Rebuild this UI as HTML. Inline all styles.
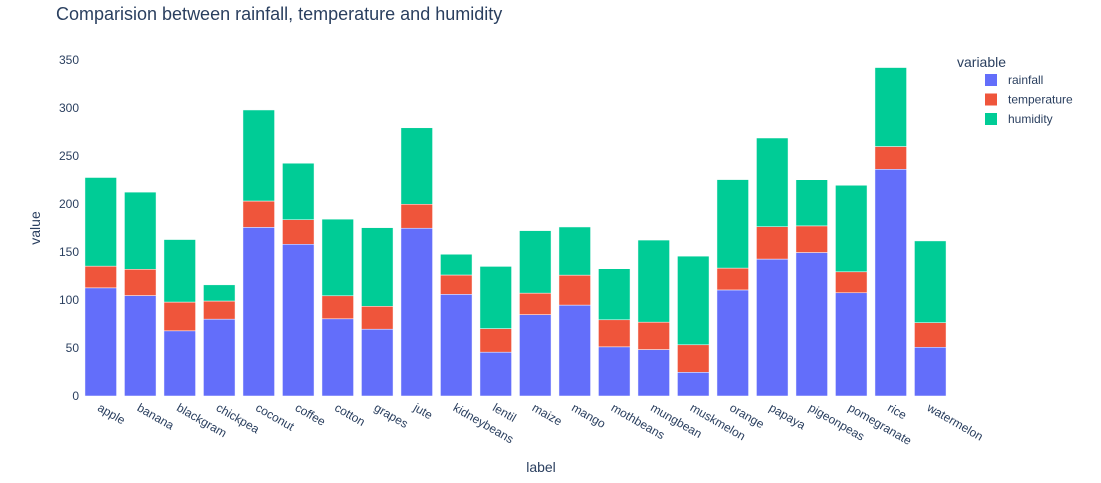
<!DOCTYPE html>
<html><head><meta charset="utf-8">
<style>
html,body{margin:0;padding:0;background:#fff;}
svg{display:block;font-family:"Liberation Sans",Arial,sans-serif;}
</style></head>
<body>
<svg id="chart" width="1101" height="483">
  <text x="56" y="20" font-size="18" fill="#2a3f5f">Comparision between rainfall, temperature and humidity</text>
  <g id="yaxis"></g>
  <g id="bars"></g>
  <g id="xaxis"></g>
  <text x="541" y="472" font-size="14" fill="#2a3f5f" text-anchor="middle">label</text>
  <text transform="translate(40,228) rotate(-90)" font-size="14" fill="#2a3f5f" text-anchor="middle">value</text>
  <g id="legend">
    <text x="957" y="67" font-size="14" fill="#2a3f5f">variable</text>
  </g>
</svg>
<script>
const categories=["apple","banana","blackgram","chickpea","coconut","coffee","cotton","grapes","jute","kidneybeans","lentil","maize","mango","mothbeans","mungbean","muskmelon","orange","papaya","pigeonpeas","pomegranate","rice","watermelon"];
const rainfall=[112.65,104.63,67.88,80.06,175.69,158.07,80.4,69.61,174.79,105.92,45.68,84.77,94.70,51.20,48.40,24.69,110.47,142.63,149.46,107.53,236.18,50.79];
const temperature=[22.63,27.38,29.97,18.87,27.41,25.54,23.99,23.85,24.96,20.12,24.51,22.39,31.21,28.19,28.53,28.66,22.77,33.72,27.74,21.84,23.69,25.59];
const humidity=[92.33,80.36,65.12,16.86,94.84,58.87,79.84,81.88,79.64,21.61,64.80,65.09,50.16,53.16,85.50,92.34,92.17,92.40,48.06,90.13,82.27,85.16];
const yTicks=[0,50,100,150,200,250,300,350];
const seriesNames=["rainfall","temperature","humidity"];

const NS="http://www.w3.org/2000/svg";
const colors=["#636efa","#EF553B","#00cc96"];
const X0=81,X1=950,Y0=396,Y350=60;
const y=v=>Y0-(v/350)*(Y0-Y350);
const bw=(X1-X0)/categories.length;
const xc=i=>X0+bw*(i+0.5);
function mk(tag,attrs,parent){const e=document.createElementNS(NS,tag);for(const k in attrs)e.setAttribute(k,attrs[k]);parent.appendChild(e);return e;}

const ya=document.getElementById('yaxis');
yTicks.forEach(t=>{
  const tx=mk('text',{x:79,y:y(t)+4,'font-size':12,fill:'#2a3f5f','text-anchor':'end'},ya);
  tx.textContent=t;
  
  
});

const bars=document.getElementById('bars');
const series=[rainfall,temperature,humidity];
categories.forEach((c,i)=>{
  let base=0;
  series.forEach((s,k)=>{
    const v=s[i];
    const r=mk('rect',{x:xc(i)-bw*0.4,y:y(base+v),width:bw*0.8,height:y(base)-y(base+v),fill:colors[k],stroke:'#fff','stroke-width':0.5},bars);
    
    
    base+=v;
  });
});

const xa=document.getElementById('xaxis');
categories.forEach((c,i)=>{
  const tx=mk('text',{transform:`translate(${xc(i)-4},${Y0+14}) rotate(30)`,'font-size':12,fill:'#2a3f5f','text-anchor':'start'},xa);
  tx.textContent=c;
  
  
});

const lg=document.getElementById('legend');
seriesNames.forEach((n,k)=>{
  const yy=80+k*19.5;
  const sw=mk('rect',{x:985,y:yy-6,width:12,height:12,fill:colors[k]},lg);
  
  
  const tx=mk('text',{x:1008,y:yy+4,'font-size':12,fill:'#2a3f5f'},lg);
  tx.textContent=n;
  
  
});
</script>
</body></html>
